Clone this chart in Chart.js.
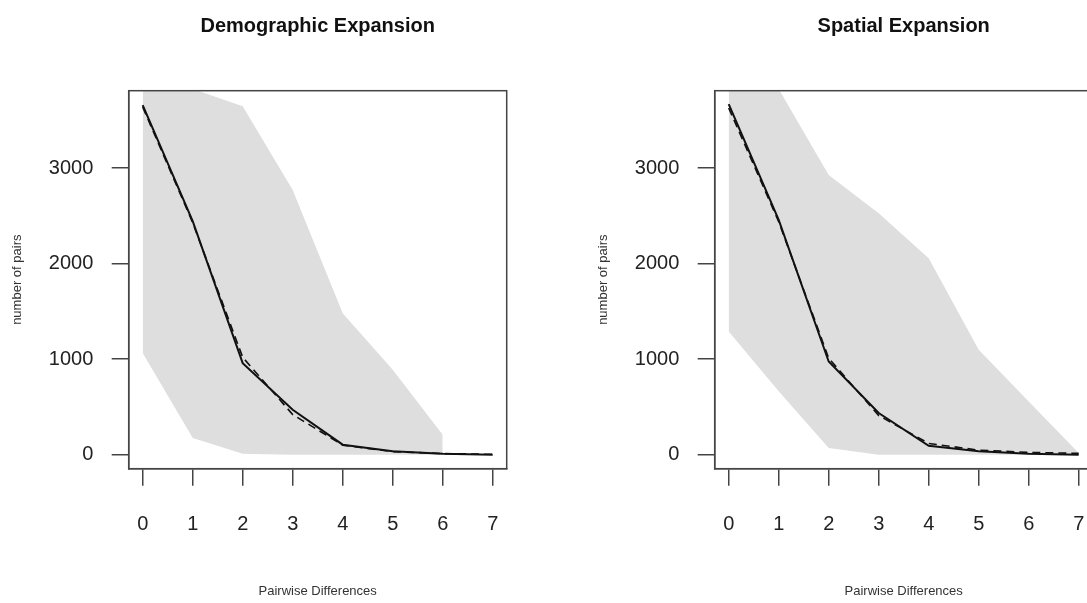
<!DOCTYPE html>
<html>
<head>
<meta charset="utf-8">
<script src="https://cdn.jsdelivr.net/npm/chart.js@4.4.1/dist/chart.umd.min.js"></script>
<style>
  html, body { margin: 0; padding: 0; background: #fff; overflow: hidden; }
  body { width: 1087px; height: 603px; position: relative; }
  canvas { position: absolute; top: 0; }
  #demoChart { left: 0; }
  #spatialChart { left: 585.5px; }
</style>
</head>
<body>
<canvas id="demoChart" width="585" height="603"></canvas>
<canvas id="spatialChart" width="585" height="603"></canvas>
<script>
// mismatch distributions

const diffs = [0, 1, 2, 3, 4, 5, 6, 7];
const xTicks = [0, 1, 2, 3, 4, 5, 6, 7];
const yTicks = [0, 1000, 2000, 3000];

// Demographic expansion
const demoBandX = [0, 1, 2, 3, 4, 5, 6];
const demoUpper = [3880, 3830, 3650, 2772, 1482, 889, 209];
const demoLower = [1064, 175, 10, 0, 0, 0, 0];
const demoObserved = [3661, 2445, 959, 471, 105, 35, 11, 0];
const demoExpected = [3640, 2430, 1020, 420, 100, 32, 12, 4];

// Spatial expansion
const spatialBandX = [0, 1, 2, 3, 4, 5, 6, 7];
const spatialUpper = [3880, 3830, 2929, 2528, 2057, 1098, 558, 18];
const spatialLower = [1290, 665, 70, 0, 0, 0, 0, 0];
const spatialObserved = [3672, 2458, 976, 436, 94, 35, 11, 0];
const spatialExpected = [3630, 2440, 1010, 410, 118, 48, 24, 14];

const FONT = "'Liberation Sans', Arial, Helvetica, sans-serif";
const AXIS = '#444';

const toPoints = (xs, ys) => xs.map((x, i) => ({ x, y: ys[i] }));

// R-style box round the plot region
const boxPlugin = {
  id: 'box',
  afterDraw(chart) {
    const { ctx, chartArea: a } = chart;
    ctx.save();
    ctx.strokeStyle = AXIS;
    ctx.lineWidth = 1.5;
    ctx.strokeRect(a.left, a.top, a.right - a.left, a.bottom - a.top);
    ctx.restore();
  }
};

function makePanel(id, title, bandX, upper, lower, observed, expected) {
  const ctx = document.getElementById(id).getContext('2d');
  return new Chart(ctx, {
    type: 'line',
    data: {
      datasets: [
        {
          label: 'observed',
          data: toPoints(diffs, observed),
          borderColor: '#111',
          borderWidth: 2,
          pointRadius: 0,
          tension: 0,
          fill: false
        },
        {
          label: 'expected',
          data: toPoints(diffs, expected),
          borderColor: '#111',
          borderWidth: 1.6,
          borderDash: [8, 5],
          pointRadius: 0,
          tension: 0,
          fill: false
        },
        {
          label: 'upper',
          data: toPoints(bandX, upper),
          borderColor: 'rgba(0,0,0,0)',
          borderWidth: 0,
          backgroundColor: '#dedede',
          pointRadius: 0,
          tension: 0,
          fill: { target: 3 }
        },
        {
          label: 'lower',
          data: toPoints(bandX, lower),
          borderColor: 'rgba(0,0,0,0)',
          borderWidth: 0,
          pointRadius: 0,
          tension: 0,
          fill: false
        }
      ]
    },
    options: {
      responsive: false,
      animation: false,
      layout: { padding: { left: 0, right: 78.3, top: 0, bottom: 0 } },
      plugins: {
        legend: { display: false },
        tooltip: { enabled: false },
        title: {
          display: true,
          text: title,
          fullSize: false,
          color: '#111',
          font: { family: FONT, size: 20, weight: 'bold' },
          padding: { top: 14, bottom: 52.7 }
        }
      },
      scales: {
        x: {
          type: 'linear',
          min: -0.28,
          max: 7.28,
          afterBuildTicks: s => { s.ticks = xTicks.map(v => ({ value: v })); },
          afterFit: s => { s.height = 134.3; },
          grid: { drawOnChartArea: false, drawTicks: true, tickLength: 17, color: AXIS, lineWidth: 1.5 },
          border: { display: true, color: AXIS, width: 1.5 },
          ticks: { color: '#222', padding: 26.5, font: { family: FONT, size: 20 }, callback: v => String(v) },
          title: {
            display: true,
            text: 'Pairwise Differences',
            color: '#333',
            font: { family: FONT, size: 13 },
            padding: { top: 0, bottom: 4.2 }
          }
        },
        y: {
          min: -146.6,
          max: 3811.6,
          afterBuildTicks: s => { s.ticks = yTicks.map(v => ({ value: v })); },
          afterFit: s => { s.width = 128.7; },
          grid: { drawOnChartArea: false, drawTicks: true, tickLength: 17, color: AXIS, lineWidth: 1.5 },
          border: { display: true, color: AXIS, width: 1.5 },
          ticks: { color: '#222', padding: 18.4, font: { family: FONT, size: 20 }, callback: v => String(v) },
          title: {
            display: true,
            text: 'number of pairs',
            color: '#333',
            font: { family: FONT, size: 13 },
            padding: { top: 9.2, bottom: 0 }
          }
        }
      }
    },
    plugins: [boxPlugin]
  });
}

makePanel('demoChart', 'Demographic Expansion', demoBandX, demoUpper, demoLower, demoObserved, demoExpected);
makePanel('spatialChart', 'Spatial Expansion', spatialBandX, spatialUpper, spatialLower, spatialObserved, spatialExpected);
</script>
</body>
</html>
